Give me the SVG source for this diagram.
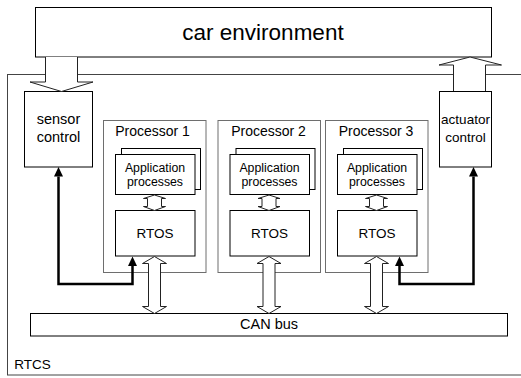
<svg xmlns="http://www.w3.org/2000/svg" width="521" height="378" viewBox="0 0 521 378">
<style>
text{font-family:"Liberation Sans",Arial,sans-serif;fill:#000;text-anchor:middle}
.box{fill:#fff;stroke:#000;stroke-width:1}
.gbox{fill:#fff;stroke:#6e6e6e;stroke-width:1}
.blk{fill:#fff;stroke:#222;stroke-width:1;stroke-linejoin:miter}
.wire{fill:none;stroke:#000;stroke-width:2.5}
.t22{font-size:22.5px}
.t14{font-size:14.5px}
.ta{font-size:13.5px}
.tp{font-size:14px}
.t13{font-size:13.5px}
.t12{font-size:12.3px}
</style>
<defs>
<marker id="ah" markerUnits="userSpaceOnUse" markerWidth="12" markerHeight="12" viewBox="0 -6 12 12" refX="0" refY="0" orient="auto-start-reverse">
<path d="M0,-4.5 L9.5,0 L0,4.5 Z" fill="#000"/>
</marker>
</defs>
<g id="rtcs">
<rect class="gbox" x="7.5" y="74.5" width="520" height="300.5" style="stroke:#444"/>
<text class="t13" x="32.5" y="369">RTCS</text>
</g>
<g id="car-environment">
<rect class="box" x="35.5" y="7.5" width="456" height="49.5"/>
<text class="t22" x="263" y="39.5">car environment</text>
</g>
<g id="sensor-control">
<rect class="box" x="24.5" y="91.5" width="68" height="75.5"/>
<text class="t14" x="58.5" y="124">sensor</text>
<text class="t14" x="58.5" y="141.5">control</text>
</g>
<g id="actuator-control">
<rect class="box" x="439.5" y="91.5" width="52" height="75.5"/>
<text class="ta" x="465.5" y="124">actuator</text>
<text class="ta" x="465.5" y="141.5">control</text>
</g>
<g id="can-bus">
<rect class="box" x="30.5" y="313.5" width="477" height="22.5"/>
<text class="t14" x="269" y="329">CAN bus</text>
</g>
<g id="processor-1">
<rect class="gbox" x="103.5" y="120.5" width="102.5" height="152"/>
<text class="tp" x="152.5" y="136">Processor 1</text>
<rect class="box" x="121.5" y="148.5" width="79" height="41"/>
<rect class="box" x="115.5" y="154.5" width="79.5" height="40"/>
<text class="t12" x="155" y="171.5">Application</text>
<text class="t12" x="155" y="185.5">processes</text>
<rect class="box" x="115.5" y="210.5" width="79.5" height="45.5"/>
<text class="t13" x="155" y="238">RTOS</text>
</g>
<g id="processor-2" transform="translate(114.5,0)">
<rect class="gbox" x="103.5" y="120.5" width="102.5" height="152"/>
<text class="tp" x="154" y="136">Processor 2</text>
<rect class="box" x="121.5" y="148.5" width="79" height="41"/>
<rect class="box" x="115.5" y="154.5" width="79.5" height="40"/>
<text class="t12" x="155" y="171.5">Application</text>
<text class="t12" x="155" y="185.5">processes</text>
<rect class="box" x="115.5" y="210.5" width="79.5" height="45.5"/>
<text class="t13" x="155" y="238">RTOS</text>
</g>
<g id="processor-3" transform="translate(222,0)">
<rect class="gbox" x="103.5" y="120.5" width="102.5" height="152"/>
<text class="tp" x="154" y="136">Processor 3</text>
<rect class="box" x="121.5" y="148.5" width="79" height="41"/>
<rect class="box" x="115.5" y="154.5" width="79.5" height="40"/>
<text class="t12" x="155" y="171.5">Application</text>
<text class="t12" x="155" y="185.5">processes</text>
<rect class="box" x="115.5" y="210.5" width="79.5" height="45.5"/>
<text class="t13" x="155" y="238">RTOS</text>
</g>
<g id="connectors">
<path class="blk" d="M45.5,57 V82 H30 L61.5,91.5 L93,82 H77.5 V57"/>
<path class="blk" d="M453.5,91 V65 H439 L470,57 L501.5,65 H485.5 V91"/>
<g id="app-rtos-links">
<path id="sa" class="blk" d="M154.5,195 L165.5,198.5 H161.5 V206.5 H165.5 L154.5,210.5 L143.5,206.5 H147.5 V198.5 H143.5 Z"/>
<use href="#sa" transform="translate(114.5,0)"/>
<use href="#sa" transform="translate(222,0)"/>
</g>
<g id="rtos-bus-links">
<path id="ba" class="blk" d="M154.5,256.5 L166.5,263.5 H160.5 V306.5 H166.5 L154.5,313.5 L142.5,306.5 H148.5 V263.5 H142.5 Z"/>
<use href="#ba" transform="translate(114.5,0)"/>
<use href="#ba" transform="translate(222,0)"/>
</g>
<path class="wire" d="M58.5,176.5 V284 H132.5 V266" marker-start="url(#ah)" marker-end="url(#ah)"/>
<path class="wire" d="M473.5,176.5 V284 H399.5 V266" marker-start="url(#ah)" marker-end="url(#ah)"/>
</g>
</svg>
